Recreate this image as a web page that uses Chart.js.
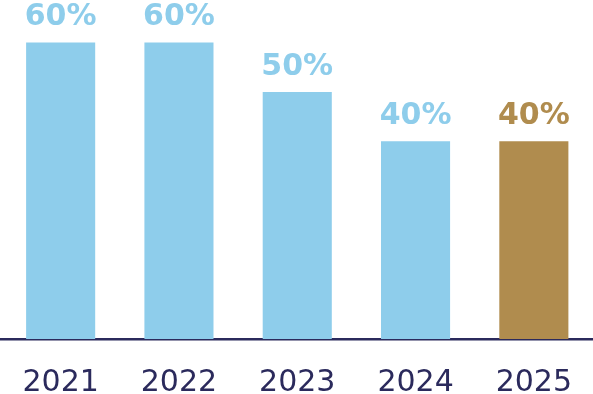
<!DOCTYPE html>
<html>
<head>
<meta charset="utf-8">
<script src="https://cdn.jsdelivr.net/npm/chart.js@4"></script>
<style>
  html, body { margin: 0; padding: 0; background: #ffffff; }
  #wrap { width: 593px; height: 394px; }
</style>
</head>
<body>
<div id="wrap"><canvas id="c" width="593" height="394"></canvas></div>
<script>
const categories = ["2021", "2022", "2023", "2024", "2025"];
const values = [60, 60, 50, 40, 40];
const valueLabels = ["60%", "60%", "50%", "40%", "40%"];
const barColors = ["#8ECDEB", "#8ECDEB", "#8ECDEB", "#8ECDEB", "#B08C4E"];

const valueLabelPlugin = {
  id: 'valueLabels',
  afterDatasetsDraw(chart) {
    const ctx = chart.ctx;
    const meta = chart.getDatasetMeta(0);
    ctx.save();
    ctx.font = 'bold 30px "DejaVu Sans", sans-serif';
    ctx.textAlign = 'center';
    ctx.textBaseline = 'alphabetic';
    meta.data.forEach((bar, i) => {
      ctx.fillStyle = barColors[i];
      ctx.fillText(valueLabels[i], bar.x, bar.y - 17);
    });
    ctx.restore();
  }
};

new Chart(document.getElementById('c'), {
  type: 'bar',
  data: {
    labels: categories,
    datasets: [{
      data: values,
      backgroundColor: barColors,
      borderWidth: 0,
      barPercentage: 0.584,
      categoryPercentage: 1.0
    }]
  },
  options: {
    responsive: false,
    animation: false,
    events: [],
    layout: { padding: { left: 1.5, right: 0, top: 0, bottom: 0 } },
    plugins: { legend: { display: false }, tooltip: { enabled: false }, title: { display: false } },
    scales: {
      x: {
        z: 1,
        grid: { display: false, drawTicks: false },
        border: { display: true, color: '#2B2A5C', width: 2.5 },
        ticks: {
          color: '#2B2A5C',
          font: { family: '"DejaVu Sans", sans-serif', size: 30, weight: 'normal', lineHeight: 26/30 },
          padding: 31,
          maxRotation: 0,
          autoSkip: false
        },
        afterFit(scale) {
          scale.height = 55;
          scale.paddingLeft = 0;
          scale.paddingRight = 0;
        }
      },
      y: {
        display: false,
        min: 0,
        max: 68.6
      }
    }
  },
  plugins: [valueLabelPlugin]
});
</script>
</body>
</html>
